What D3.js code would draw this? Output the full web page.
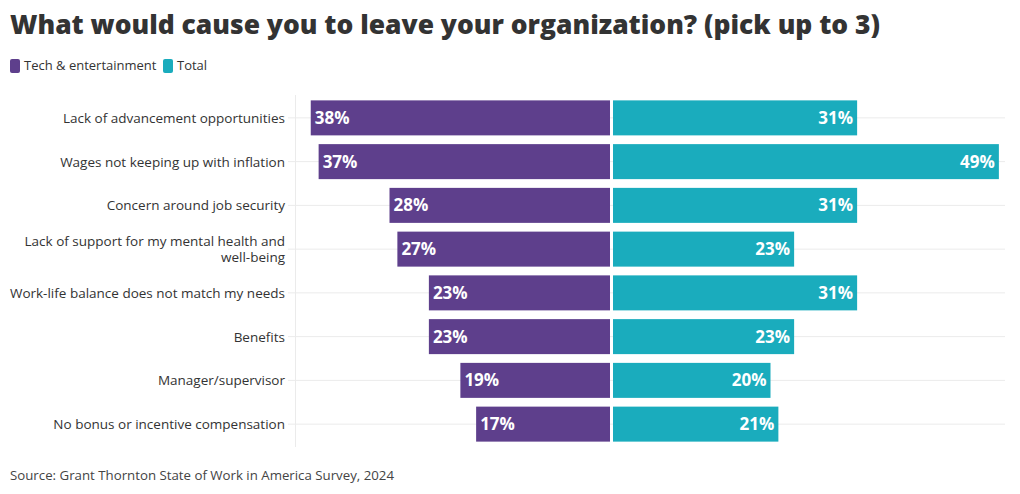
<!DOCTYPE html>
<html>
<head>
<meta charset="utf-8">
<script src="https://cdn.jsdelivr.net/npm/d3@7"></script>
<style>
  body { margin: 0; background: #fff; }
  svg { display: block; }
</style>
</head>
<body>
<svg id="chart" width="1020" height="494"></svg>
<script>
const categories = [
  ["Lack of advancement opportunities"],
  ["Wages not keeping up with inflation"],
  ["Concern around job security"],
  ["Lack of support for my mental health and", "well-being"],
  ["Work-life balance does not match my needs"],
  ["Benefits"],
  ["Manager/supervisor"],
  ["No bonus or incentive compensation"]
];
const techValues = [38, 37, 28, 27, 23, 23, 19, 17];
const totalValues = [31, 49, 31, 23, 31, 23, 20, 21];
const seriesNames = ["Tech & entertainment", "Total"];
const colors = ["#5E3F8C", "#1AACBD"];

const svg = d3.select("#chart");
const font = "'Open Sans', sans-serif";
const titleFont = "'Open Sans', sans-serif";

const title = svg.append("text").attr("x", 10).attr("y", 34)
  .attr("font-family", titleFont).attr("font-weight", 800).attr("font-size", 27)
  .attr("fill", "#333").text("What would cause you to leave your organization? (pick up to 3)");
title.attr("textLength", 870).attr("lengthAdjust", "spacingAndGlyphs");

// legend
const leg = svg.append("g");
const legX = [10, 163];
seriesNames.forEach((n, i) => {
  leg.append("rect").attr("x", legX[i]).attr("y", 59).attr("width", 10).attr("height", 14)
    .attr("rx", 2).attr("fill", colors[i]);
  leg.append("text").attr("x", legX[i] + 14).attr("y", 70)
    .attr("font-family", font).attr("font-size", 13).attr("fill", "#333").text(n);
});

const idx = d3.range(categories.length);
const y = d3.scaleBand().domain(idx).range([96, 446]).paddingInner(0.2).paddingOuter(0.1);
const xL = d3.scaleLinear().domain([0, 40]).range([610, 295]);
const xR = d3.scaleLinear().domain([0, 40]).range([613, 928]);

// gridlines
svg.append("g").selectAll("line").data(idx).join("line")
  .attr("x1", 288).attr("x2", 1005)
  .attr("y1", d => y(d) + y.bandwidth() / 2).attr("y2", d => y(d) + y.bandwidth() / 2)
  .attr("stroke", "#ebebeb").attr("stroke-width", 1);
svg.append("line").attr("x1", 295.5).attr("x2", 295.5).attr("y1", 95).attr("y2", 447)
  .attr("stroke", "#ebebeb");

// category labels
const lab = svg.append("g").selectAll("text").data(idx).join("text")
  .attr("text-anchor", "end").attr("font-family", font).attr("font-size", 13.5).attr("fill", "#333")
  .attr("x", 285)
  .attr("y", d => y(d) + y.bandwidth() / 2 + 5 - (categories[d].length - 1) * 8);
lab.selectAll("tspan").data(d => categories[d]).join("tspan")
  .attr("x", 285).attr("dy", (t, i) => i === 0 ? 0 : 16).text(t => t);

// bars
svg.append("g").selectAll("rect").data(idx).join("rect")
  .attr("x", d => xL(techValues[d])).attr("y", d => y(d))
  .attr("width", d => xL(0) - xL(techValues[d])).attr("height", y.bandwidth())
  .attr("fill", colors[0]);
svg.append("g").selectAll("rect").data(idx).join("rect")
  .attr("x", xR(0)).attr("y", d => y(d))
  .attr("width", d => xR(totalValues[d]) - xR(0)).attr("height", y.bandwidth())
  .attr("fill", colors[1]);

// value labels
svg.append("g").selectAll("text").data(idx).join("text")
  .attr("x", d => xL(techValues[d]) + 4).attr("y", d => y(d) + y.bandwidth() / 2 + 6)
  .attr("font-family", font).attr("font-weight", 700).attr("font-size", 17).attr("fill", "#fff")
  .text(d => techValues[d] + "%");
svg.append("g").selectAll("text").data(idx).join("text")
  .attr("x", d => xR(totalValues[d]) - 4).attr("y", d => y(d) + y.bandwidth() / 2 + 6)
  .attr("text-anchor", "end")
  .attr("font-family", font).attr("font-weight", 700).attr("font-size", 17).attr("fill", "#fff")
  .text(d => totalValues[d] + "%");

svg.append("text").attr("x", 10).attr("y", 480)
  .attr("font-family", font).attr("font-size", 12.5).attr("fill", "#444")
  .attr("textLength", 384).attr("lengthAdjust", "spacingAndGlyphs")
  .text("Source: Grant Thornton State of Work in America Survey, 2024");
</script>
</body>
</html>
